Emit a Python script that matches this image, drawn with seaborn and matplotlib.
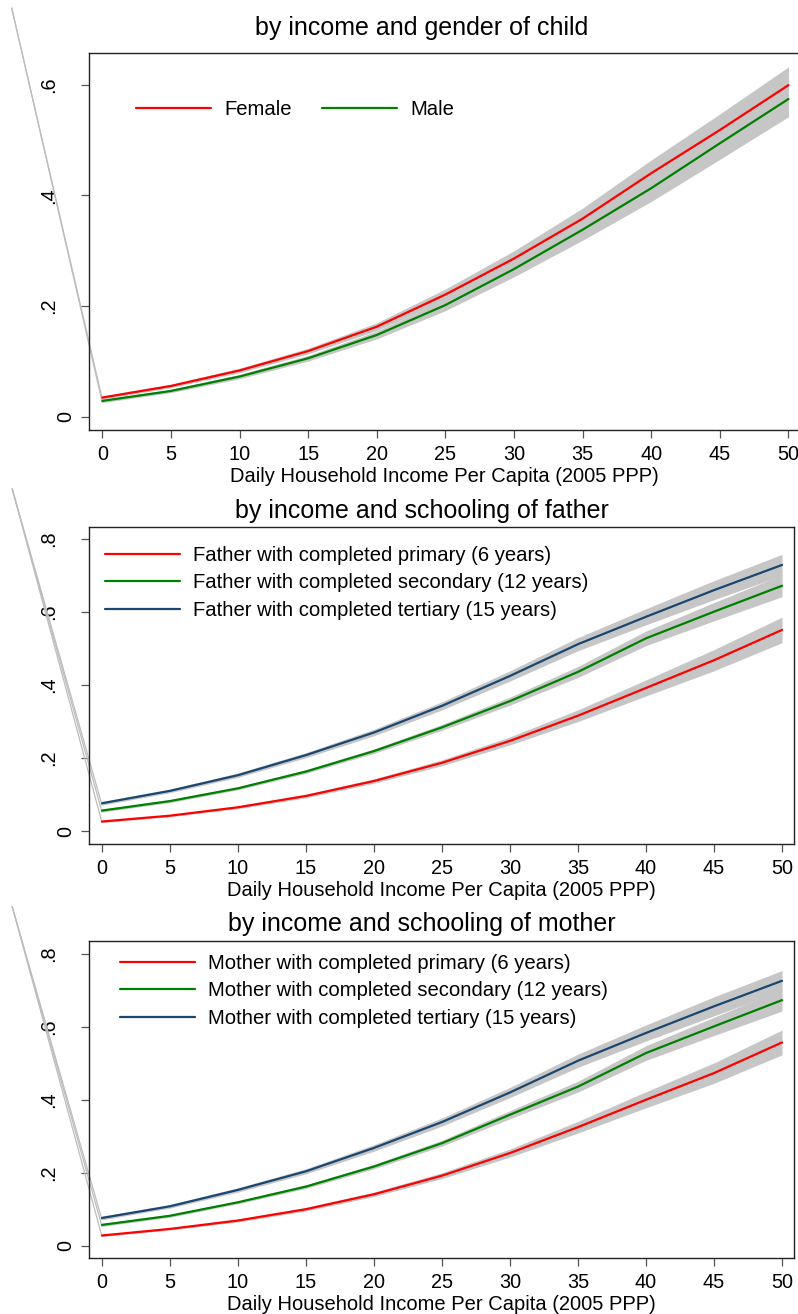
import matplotlib
matplotlib.use("Agg")
import numpy as np
import pandas as pd
import seaborn as sns
import matplotlib.pyplot as plt
from matplotlib.transforms import ScaledTranslation

# ---- data ----
income = [0, 5, 10, 15, 20, 25, 30, 35, 40, 45, 50]

female = [0.035, 0.056, 0.084, 0.119, 0.163, 0.221, 0.286, 0.358, 0.440, 0.518, 0.599]
male = [0.029, 0.047, 0.073, 0.106, 0.148, 0.202, 0.267, 0.338, 0.413, 0.494, 0.574]
female_ci = [0.003, 0.003, 0.004, 0.005, 0.007, 0.010, 0.014, 0.019, 0.024, 0.029, 0.033]
male_ci = [0.003, 0.003, 0.004, 0.005, 0.007, 0.010, 0.014, 0.019, 0.024, 0.029, 0.032]

father_primary = [0.026, 0.042, 0.065, 0.096, 0.137, 0.187, 0.247, 0.316, 0.392, 0.468, 0.551]
father_secondary = [0.056, 0.082, 0.117, 0.163, 0.219, 0.284, 0.356, 0.436, 0.528, 0.601, 0.672]
father_tertiary = [0.076, 0.110, 0.153, 0.208, 0.270, 0.343, 0.425, 0.512, 0.587, 0.660, 0.729]
father_primary_ci = [0.003, 0.003, 0.004, 0.005, 0.006, 0.008, 0.011, 0.016, 0.022, 0.029, 0.035]
father_secondary_ci = [0.004, 0.004, 0.004, 0.005, 0.006, 0.008, 0.011, 0.015, 0.020, 0.025, 0.030]
father_tertiary_ci = [0.005, 0.005, 0.006, 0.007, 0.009, 0.011, 0.014, 0.018, 0.022, 0.026, 0.029]

mother_primary = [0.028, 0.046, 0.069, 0.100, 0.141, 0.192, 0.254, 0.325, 0.400, 0.473, 0.557]
mother_secondary = [0.057, 0.082, 0.119, 0.162, 0.217, 0.281, 0.359, 0.436, 0.528, 0.601, 0.673]
mother_tertiary = [0.076, 0.108, 0.153, 0.204, 0.268, 0.339, 0.420, 0.507, 0.583, 0.656, 0.726]
mother_primary_ci = [0.003, 0.003, 0.004, 0.005, 0.006, 0.008, 0.011, 0.016, 0.022, 0.028, 0.034]
mother_secondary_ci = [0.004, 0.004, 0.004, 0.005, 0.006, 0.008, 0.011, 0.015, 0.020, 0.025, 0.030]
mother_tertiary_ci = [0.005, 0.005, 0.006, 0.007, 0.009, 0.011, 0.014, 0.018, 0.022, 0.026, 0.028]

gender_labels = ["Female", "Male"]
father_labels = ["Father with completed primary (6 years)",
                 "Father with completed secondary (12 years)",
                 "Father with completed tertiary (15 years)"]
mother_labels = ["Mother with completed primary (6 years)",
                 "Mother with completed secondary (12 years)",
                 "Mother with completed tertiary (15 years)"]

titles = ["by income and gender of child",
          "by income and schooling of father",
          "by income and schooling of mother"]
xlabel = "Daily Household Income Per Capita (2005 PPP)"
xticks = [0, 5, 10, 15, 20, 25, 30, 35, 40, 45, 50]
yticks_top = [0, 0.2, 0.4, 0.6]
yticks_other = [0, 0.2, 0.4, 0.6, 0.8]
ytick_labels = ["0", ".2", ".4", ".6", ".8"]

# stray band vertex (off-plot artifact in the original export)
stray_x = [-6.6, -6.6, -6.6]
stray_y = [0.738, 0.937, 0.929]

sns.set_theme(style="ticks")
plt.rcParams['font.family'] = ['Liberation Sans', 'DejaVu Sans']
plt.rcParams['text.color'] = 'black'
plt.rcParams['axes.labelcolor'] = 'black'

W, H = 798, 1314
fig = plt.figure(figsize=(W / 100, H / 100), dpi=100)

RED, GREEN, NAVY, BAND = "#ff0000", "#008000", "#1a476f", "#c6c6c6"


def px_axes(left, right, top, bottom):
    return fig.add_axes([left / W, 1 - bottom / H, (right - left) / W, (bottom - top) / H])


def panel(ax, series, cis, labels, colors, xlim, ylim, yticks, stray,
          title, title_y, leg_xy, ncol):
    frames = []
    for vals, lab in zip(series, labels):
        frames.append(pd.DataFrame({"income": income, "prob": vals, "group": lab}))
    df = pd.concat(frames, ignore_index=True)

    for vals, ci in zip(series, cis):
        v = np.array(vals)
        c = np.array(ci)
        ax.fill_between(income, v - c, v + c, color=BAND, lw=0, zorder=1)

    sns.lineplot(data=df, x="income", y="prob", hue="group", hue_order=labels,
                 palette=colors, linewidth=1.6, ax=ax, legend=False, zorder=3)
    handles = list(ax.lines[:len(labels)])

    for vals, ci in zip(series, cis):
        ax.plot([stray[0], 0], [stray[1], vals[0] - ci[0]], color="#bdbdbd",
                lw=0.9, clip_on=False, zorder=2)

    ax.set_xlim(*xlim)
    ax.set_ylim(*ylim)
    ax.set_xticks(xticks)
    ax.set_xticklabels([str(t) for t in xticks])
    ax.set_yticks(yticks)
    ax.set_yticklabels(ytick_labels[:len(yticks)], rotation=90, va="center")
    ax.tick_params(axis="both", direction="out", length=6, width=0.9,
                   color="#555555", labelsize=14.3, labelcolor="black",
                   bottom=True, left=True, top=False, right=False)
    ax.tick_params(axis="x", pad=5)
    ax.tick_params(axis="y", pad=16)
    # the zero label sits closer to the axis in the original
    zero = ax.get_yticklabels()[0]
    zero.set_transform(zero.get_transform() +
                       ScaledTranslation(17 / 100, 0, fig.dpi_scale_trans))
    ax.set_xlabel(xlabel, fontsize=14.5, labelpad=2, color="black")
    ax.set_ylabel("")
    for s in ax.spines.values():
        s.set_visible(True)
        s.set_color("#222222")
        s.set_linewidth(1.0)

    fig.text(422 / W, 1 - title_y / H, title, ha="center", va="center",
             fontsize=18, color="black")

    leg = ax.legend(handles=handles, labels=labels, loc="upper left",
                    bbox_to_anchor=(leg_xy[0] / W, 1 - leg_xy[1] / H),
                    bbox_transform=fig.transFigure, frameon=False, ncol=ncol,
                    fontsize=14.6, handlelength=3.7, handletextpad=0.64,
                    labelspacing=0.41, columnspacing=1.5, borderpad=0, borderaxespad=0)
    for t in leg.get_texts():
        t.set_color("black")


ax1 = px_axes(89, 800, 53, 430)
panel(ax1, [female, male], [female_ci, male_ci], gender_labels, [RED, GREEN],
      (-0.97, 50.84), (-0.0235, 0.657), yticks_top, (stray_x[0], stray_y[0]),
      titles[0], 28, (136, 100), 2)

ax2 = px_axes(89, 794, 527, 844)
panel(ax2, [father_primary, father_secondary, father_tertiary],
      [father_primary_ci, father_secondary_ci, father_tertiary_ci],
      father_labels, [RED, GREEN, NAVY],
      (-0.956, 50.88), (-0.0356, 0.833), yticks_other, (stray_x[1], stray_y[1]),
      titles[1], 511, (105, 546), 1)

ax3 = px_axes(89, 794, 941, 1258)
panel(ax3, [mother_primary, mother_secondary, mother_tertiary],
      [mother_primary_ci, mother_secondary_ci, mother_tertiary_ci],
      mother_labels, [RED, GREEN, NAVY],
      (-0.956, 50.88), (-0.0337, 0.835), yticks_other, (stray_x[2], stray_y[2]),
      titles[2], 924, (120, 954), 1)

fig.savefig("out.png", dpi=100)
